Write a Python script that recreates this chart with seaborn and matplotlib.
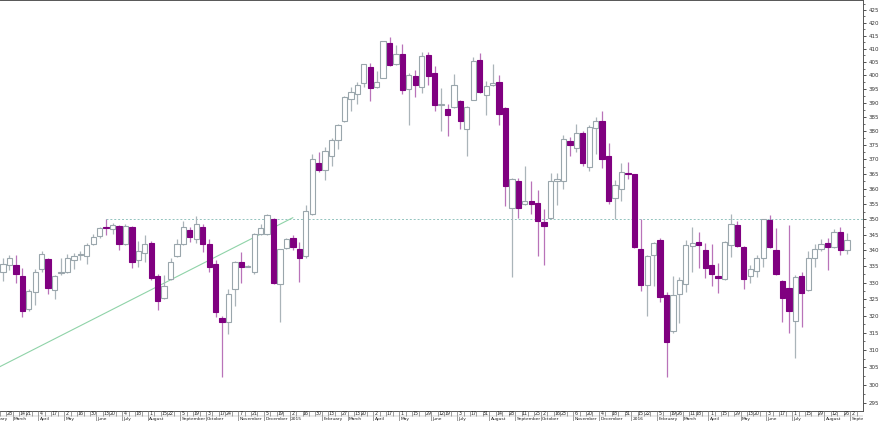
import pandas as pd
import seaborn as sns
import matplotlib.pyplot as plt
from matplotlib.ticker import MultipleLocator, FuncFormatter, NullFormatter

# weekly candles (week ending Friday), Feb 2014 - Aug 2016
week_ends = pd.date_range("2014-02-07", "2016-09-02", freq="W-FRI")
# weeks that closed on a Thursday because of a holiday
short_weeks = {"2014-04-18": "2014-04-17", "2015-04-03": "2015-04-02",
               "2016-01-01": "2015-12-31"}
first_week = 2  # the first two entries are only used for the axis labels

opens = [333.2, 335.4, 335.4, 331.9, 321.9, 327.1, 334.2, 337.2, 327.7, 332.8,
         333.2, 336.9, 338.5, 338.3, 341.9, 344.6, 347.6, 346.8, 347.9, 341.9,
         347.6, 337.0, 339.1, 342.3, 332.1, 325.3, 331.1, 338.1, 342.1, 346.5,
         343.5, 347.5, 342.1, 335.6, 319.4, 318.2, 328.0, 336.3, 334.9, 333.2,
         345.3, 345.3, 350.2, 329.5, 340.9, 343.8, 340.3, 338.1, 351.6, 368.9,
         366.4, 371.1, 376.6, 383.5, 391.5, 393.3, 397.0, 403.1, 395.8, 399.2,
         412.1, 404.1, 408.0, 394.9, 399.8, 395.8, 407.8, 400.8, 389.2, 387.8,
         388.4, 390.7, 380.4, 391.1, 405.6, 392.7, 396.6, 397.4, 388.2, 353.6,
         362.5, 354.9, 356.1, 355.2, 349.0, 350.5, 362.6, 362.8, 376.3, 373.9,
         379.3, 367.4, 381.1, 383.3, 371.3, 356.9, 360.1, 365.4, 364.9, 340.3,
         329.3, 338.7, 343.2, 326.1, 315.4, 326.6, 329.5, 341.3, 342.7, 340.0,
         335.4, 332.1, 331.1, 341.6, 348.1, 341.0, 332.1, 333.5, 337.7, 349.6,
         340.0, 330.6, 328.2, 318.5, 332.1, 327.8, 337.7, 340.6, 342.4, 341.0,
         346.0, 340.0]
highs = [337.5, 338.6, 338.6, 334.4, 327.9, 334.2, 339.7, 337.5, 332.2, 337.5,
         339.0, 339.1, 339.8, 342.4, 345.1, 347.5, 349.9, 348.8, 348.1, 348.5,
         347.9, 342.9, 344.8, 342.9, 332.7, 332.3, 337.5, 343.6, 349.5, 347.5,
         351.2, 348.5, 343.6, 337.0, 319.9, 328.0, 336.8, 339.5, 335.3, 345.5,
         348.4, 351.6, 350.5, 340.6, 343.9, 344.9, 342.7, 354.8, 371.9, 372.5,
         374.2, 377.5, 382.3, 392.4, 395.8, 397.7, 404.3, 404.7, 401.7, 413.0,
         414.5, 411.5, 411.9, 400.8, 402.1, 408.7, 408.7, 403.4, 395.2, 389.4,
         400.5, 391.1, 388.9, 406.8, 408.5, 398.0, 404.1, 400.0, 388.5, 363.5,
         363.7, 367.8, 362.5, 359.5, 353.3, 365.4, 365.4, 378.4, 377.8, 382.3,
         379.9, 382.1, 384.7, 387.1, 375.7, 363.0, 368.9, 369.1, 365.1, 350.2,
         338.4, 342.6, 344.0, 327.1, 332.1, 331.6, 343.4, 347.5, 346.0, 342.4,
         342.1, 336.1, 343.0, 351.6, 349.5, 341.3, 335.4, 338.4, 350.2, 351.4,
         347.3, 330.9, 348.1, 332.3, 333.2, 339.7, 341.9, 343.6, 343.8, 346.8,
         347.5, 345.5]
lows = [330.6, 333.9, 329.8, 319.7, 321.5, 323.3, 333.2, 326.5, 325.1, 332.4,
        332.9, 334.2, 337.1, 335.6, 341.6, 343.8, 344.8, 345.1, 340.1, 341.6,
        334.4, 334.9, 336.5, 330.9, 321.7, 324.9, 330.8, 337.8, 341.8, 342.7,
        342.4, 339.5, 333.2, 319.7, 302.4, 314.6, 322.9, 329.8, 334.7, 332.7,
        344.9, 344.9, 329.5, 318.2, 340.6, 340.0, 330.2, 337.5, 351.3, 365.7,
        362.9, 367.8, 373.4, 383.2, 387.1, 389.6, 395.8, 390.5, 395.2, 399.0,
        403.5, 403.8, 393.3, 381.9, 392.1, 393.6, 396.4, 387.1, 379.9, 378.1,
        388.0, 380.6, 371.0, 390.8, 393.5, 385.6, 396.0, 382.0, 354.2, 331.6,
        350.5, 354.6, 351.6, 338.1, 335.3, 350.2, 354.6, 360.1, 371.3, 372.5,
        367.8, 366.0, 371.9, 367.2, 355.0, 350.0, 355.8, 363.4, 340.7, 327.4,
        319.9, 329.0, 324.1, 302.4, 315.0, 317.8, 327.1, 333.1, 334.6, 331.3,
        328.9, 326.8, 330.8, 337.8, 341.0, 328.0, 330.0, 331.8, 334.9, 340.7,
        332.2, 318.0, 314.9, 307.6, 316.8, 327.5, 334.9, 339.7, 333.8, 340.7,
        338.6, 338.8]
closes = [335.6, 337.7, 332.6, 321.5, 327.3, 333.2, 339.0, 328.2, 331.9, 333.2,
          337.6, 338.3, 338.8, 341.6, 344.2, 347.3, 347.0, 348.1, 341.9, 347.9,
          336.5, 339.7, 342.1, 331.3, 324.3, 328.9, 336.5, 341.9, 347.5, 344.3,
          348.4, 342.1, 334.9, 321.1, 318.0, 326.5, 336.5, 334.9, 335.1, 345.3,
          347.1, 351.4, 329.8, 340.3, 343.6, 341.0, 337.5, 352.8, 370.0, 366.4,
          372.8, 376.6, 382.1, 392.1, 393.9, 396.4, 404.1, 395.4, 397.4, 412.8,
          403.8, 408.0, 394.6, 400.2, 396.4, 407.4, 399.9, 389.2, 389.6, 385.6,
          396.6, 383.5, 388.6, 405.5, 393.9, 396.2, 397.2, 386.0, 361.0, 363.2,
          353.6, 356.1, 354.9, 349.5, 347.9, 362.8, 363.2, 376.9, 374.9, 379.3,
          368.9, 381.4, 383.5, 370.1, 356.1, 361.2, 365.7, 365.0, 341.0, 329.2,
          338.1, 342.3, 325.6, 312.2, 326.1, 330.8, 341.6, 342.3, 341.6, 334.6,
          332.7, 331.3, 342.7, 348.4, 341.3, 331.1, 334.2, 337.5, 349.9, 341.0,
          332.5, 325.2, 321.4, 331.6, 326.7, 337.5, 340.3, 341.9, 341.0, 346.0,
          340.0, 343.4]

# resistance from the June 2014 high, and the rising trend line
resist_level = 350.0
resist_from = 16
trend_x = [-0.5, 45.0]
trend_y = [305.2, 350.5]

up_edge = "#9aa6ac"
up_wick = "#aab4b9"
down_col = "#800080"

sns.set_theme(style="white")
plt.rcParams["font.family"] = ["DejaVu Sans"]

df = pd.DataFrame({"open": opens, "high": highs, "low": lows, "close": closes})
df["i"] = range(len(df))
df["up"] = df["close"] >= df["open"]

fig = plt.figure(figsize=(8.8, 4.21), dpi=100)
ax = fig.add_axes([0, 10 / 421, 863 / 880, 411 / 421])
strip = fig.add_axes([0, 0, 863 / 880, 10 / 421], sharex=ax)

for up, grp in df.groupby("up"):
    ax.vlines(grp["i"], grp["low"], grp["high"],
              color=up_wick if up else down_col, alpha=1 if up else 0.55,
              lw=0.9, zorder=1)
    bottom = grp[["open", "close"]].min(axis=1)
    height = (grp["open"] - grp["close"]).abs().clip(lower=0.25)
    ax.bar(grp["i"], height, bottom=bottom, width=0.82,
           color="white" if up else down_col,
           edgecolor=up_edge if up else down_col, linewidth=0.8, zorder=2)

ax.hlines(resist_level, resist_from, 134, color="#93c4bf", lw=0.7,
          linestyle=(0, (2, 2)), zorder=0)
sns.lineplot(x=trend_x, y=trend_y, ax=ax, color="#8fd3a8", lw=0.8, zorder=0)

ax.set_yscale("log")
ax.set_ylim(292.9, 429)
ax.set_xlim(-0.47, 133.5)
ax.yaxis.tick_right()
ax.yaxis.set_major_locator(MultipleLocator(5))
ax.yaxis.set_minor_locator(MultipleLocator(2.5))
ax.yaxis.set_major_formatter(FuncFormatter(lambda v, p: f"{v:.0f}"))
ax.yaxis.set_minor_formatter(NullFormatter())
ax.tick_params(axis="y", which="major", right=True, length=2.5, width=0.6,
               labelsize=4.0, pad=1.5, colors="#333333")
ax.tick_params(axis="y", which="minor", right=True, length=1.3, width=0.5,
               color="#333333")
ax.tick_params(axis="x", bottom=False, labelbottom=False)
ax.spines["left"].set_visible(False)
for s in ["right", "top", "bottom"]:
    ax.spines[s].set_color("#555555")
    ax.spines[s].set_linewidth(0.7)

# date strip: day numbers on top, months below
dates = pd.Series(week_ends).astype(str).replace(short_weeks)
dates = pd.to_datetime(dates)
strip.set_ylim(0, 1)
strip.axis("off")
strip.vlines([k - first_week - 0.5 for k in range(len(dates) + 1)], 0.5, 1,
             color="#777777", lw=0.5)
strip.axhline(0.5, color="#999999", lw=0.3)

label_weeks = [3, 5, 6, 8, 10, 12, 14, 16, 18, 19, 21, 23, 25, 27, 28, 30, 32,
               34, 36, 37, 39, 41, 43, 45, 47, 49, 51, 53, 55, 57, 58, 60, 62,
               64, 66, 68, 70, 71, 73, 75, 77, 79, 81, 83, 85, 86, 88, 89, 91,
               93, 95, 97, 99, 101, 102, 104, 106, 107, 109, 110, 112, 114,
               116, 118, 119, 121, 123, 125, 127, 129, 131, 133, 134]
for k in label_weeks:
    strip.text(k - first_week, 0.74, str(dates[k].day), ha="center",
               va="center", fontsize=3.4, color="#222222", clip_on=True)

prev = None
for k, d in enumerate(dates):
    if prev is not None and d.month == prev.month:
        prev = d
        continue
    prev = d
    name = str(d.year) if d.month == 1 else d.strftime("%B")
    x = k - first_week - 0.5
    strip.vlines(x, 0, 0.5, color="#777777", lw=0.5)
    strip.text(x + 0.2, 0.24, name, ha="left", va="center", fontsize=3.2,
               color="#222222", clip_on=True)

fig.savefig("out.png", dpi=100)
